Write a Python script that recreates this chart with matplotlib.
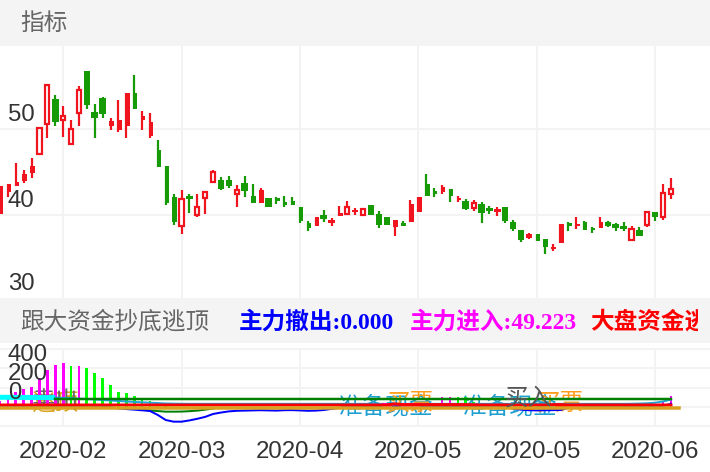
import matplotlib
matplotlib.use('Agg')
import matplotlib.pyplot as plt
import numpy as np
from matplotlib.patches import Rectangle
from matplotlib.transforms import Bbox

# candles
opens = [40.16, 42.68, 43.34, 43.96, 44.89, 47.13, 50.62, 53.53, 51.05, 48.30,
         51.90, 56.71, 52.02, 53.57, 50.31, 49.85, 50.35, 54.23, 51.01, 49.15,
         47.52, 45.74, 42.10, 38.68, 42.17, 40.00, 41.98, 43.84, 44.11, 44.11,
         42.44, 43.68, 42.17, 41.40, 42.02, 41.98, 41.47, 41.59, 40.89, 39.03,
         38.68, 39.96, 39.07, 39.85, 40.12, 40.31, 40.00, 41.20, 40.16, 39.73,
         38.61, 39.07, 39.15, 40.39, 43.57, 42.83, 42.67, 43.06, 41.71, 41.67,
         40.85, 41.24, 40.78, 40.31, 40.89, 39.19, 38.22, 37.29, 37.76, 37.25,
         36.01, 36.71, 39.03, 38.69, 39.15, 38.49, 38.49, 39.15, 38.96, 38.72,
         37.14, 38.22, 38.84, 40.35, 39.77, 42.48]
closes = [43.34, 43.65, 43.84, 44.73, 45.66, 50.12, 55.12, 50.82, 51.51, 50.00,
          54.58, 52.75, 51.24, 51.75, 50.93, 51.05, 54.23, 52.29, 51.48, 50.86,
          45.62, 41.44, 39.15, 41.90, 41.86, 40.97, 42.68, 44.96, 43.06, 43.34,
          42.87, 42.75, 41.40, 42.87, 40.89, 41.63, 41.12, 41.12, 39.26, 38.49,
          39.73, 39.50, 39.42, 40.19, 40.89, 40.54, 40.74, 39.96, 38.84, 38.84,
          39.38, 38.68, 41.24, 42.13, 42.17, 42.40, 43.22, 42.21, 41.98, 40.66,
          41.36, 40.24, 40.43, 40.66, 39.27, 38.34, 37.06, 37.76, 37.02, 36.28,
          36.32, 39.00, 38.69, 38.92, 38.22, 38.22, 39.15, 38.76, 38.49, 38.34,
          38.38, 37.60, 40.31, 39.73, 42.52, 42.99]
highs = [43.34, 43.65, 46.09, 45.20, 46.63, 50.12, 55.12, 53.92, 52.64, 51.01,
         54.96, 56.71, 52.95, 53.68, 51.32, 53.41, 54.23, 56.24, 52.06, 51.90,
         48.76, 45.74, 42.48, 42.95, 42.41, 42.41, 42.68, 45.27, 44.38, 44.50,
         43.45, 44.50, 43.57, 43.10, 42.02, 42.13, 42.25, 42.13, 40.89, 39.26,
         39.73, 40.54, 39.61, 41.01, 41.59, 40.78, 40.74, 41.20, 40.43, 39.73,
         39.38, 39.26, 41.71, 42.13, 44.81, 43.10, 43.45, 43.06, 42.17, 41.82,
         41.71, 41.48, 41.09, 40.97, 40.89, 39.42, 38.22, 37.87, 37.76, 37.25,
         36.67, 39.00, 39.15, 39.73, 39.27, 38.61, 39.77, 39.27, 39.03, 39.15,
         38.69, 38.61, 40.31, 40.35, 43.65, 44.27]
lows = [40.16, 42.10, 43.34, 43.72, 44.34, 47.13, 48.99, 50.39, 49.07, 48.30,
        50.39, 52.37, 48.99, 51.28, 49.93, 49.62, 48.92, 52.29, 49.93, 48.92,
        45.62, 41.13, 38.80, 37.79, 40.24, 39.77, 40.16, 43.72, 42.87, 43.18,
        40.89, 42.05, 41.40, 41.40, 40.89, 41.24, 40.89, 41.12, 39.07, 38.10,
        38.68, 39.19, 38.68, 39.85, 40.12, 39.96, 40.00, 39.96, 38.49, 38.84,
        37.56, 38.68, 39.15, 40.39, 42.17, 42.09, 42.48, 41.47, 41.47, 40.62,
        40.43, 39.03, 40.08, 39.89, 39.03, 38.14, 36.83, 37.17, 37.02, 35.43,
        35.78, 36.71, 38.10, 38.34, 38.22, 37.87, 38.49, 38.57, 38.10, 38.10,
        37.14, 37.60, 38.57, 39.27, 39.38, 41.86]
hollow = [5, 6, 8, 9, 10, 23, 25, 26, 27, 30, 44, 46, 60, 80, 82, 84, 85]
narrow = [0, 1, 2, 3, 4, 14, 15, 16, 17, 18, 19, 20, 21, 22, 32, 33, 35, 36, 37,
          38, 39, 40, 43, 50, 51, 52, 53, 54, 55, 56, 57, 58, 68, 69, 70, 71,
          72, 73, 74, 75, 76]

date_ticks = [8, 23, 38, 53, 68, 83]
date_labels = ['2020-02', '2020-03', '2020-04', '2020-05', '2020-05', '2020-06']
price_ticks = [50, 40, 30]
ind_ticks = [400, 200, 0]

# lower panel
bar_vals = [60, 122, 157, 181, 209, 295, 382, 434, 451, 423,
            423, 399, 347, 295, 226, 157, 140, 112, 87, 60,
            36, 18, 0, 0, 0, 0, 0, 0, 0, 0,
            0, 0, 0, 0, 0, 0, 0, 0, 0, 0,
            0, 0, 0, 0, 0, 0, 0, 0, 0, 0,
            0, 0, 0, 0, 0, 0, 100, 100, 100, 100,
            53, 0, 0, 0, 0, 0, 0, 0, 0, 0,
            0, 0, 0, 0, 0, 0, 0, 0, 0, 28,
            28, 0, 0, 0, 60, 110]
bar_is_green = [9, 11, 12, 13, 14, 15, 16, 17, 18, 19, 20, 21, 58, 59, 60, 79, 80]

stick_idx = [49, 52, 67, 71.3, 73]
stick_top = [34, 34, 30, 30, 30]
stick_bottom = [0, 0, -35, 0, 0]
stick_width = [1.3, 2.5, 1.4, 1.9, 1.5]
stick_color = ['#ff00ff', '#ff00ff', '#ff0000', '#ff0000', '#ff00ff']

cyan_vals = [98, 98, 97, 97, 96, 96, 95, 95]
sky_vals = [95, 92, 88, 84, 80, 76, 70, 65, 60, 55, 50, 46, 42, 38, 34, 32, 31, 30,
            30, 30, 30, 30, 30, 30, 30, 30, 30, 30, 30, 30, 30, 30, 30, 30, 30, 30,
            30, 30, 30, 30, 30, 30, 30, 30, 30, 30, 30, 30, 30, 30, 30, 30, 30, 30,
            30, 30, 30, 30, 30, 30, 30, 30, 30, 30, 30, 30, 30, 30, 30, 30, 30, 30,
            30, 31, 33, 36, 42, 55, 75]
upper_green = [77] * 79
lower_green_vals = [-20, -30, -38, -45, -51, -51, -50, -46, -40, -30, -18]
blue_vals = [10, 10, 10, 10, 10, 10, 10, 10, 10, 10,
             10, 10, 10, 10, -5, -16, -24, -30, -37, -44,
             -86, -138, -155, -155, -142, -125, -105, -75, -60, -48,
             -42, -40, -38, -36, -38, -40, -36, -35, -38, -42,
             -40, -34, -22, -10, 5, 5, 5, 5, 5, 5,
             5, 5, 5, 5, 5, 5, 5, 5, 5, 5,
             5, 5, 5, 5, 5, -20, -30, -36, -38, -36,
             -35, -34, -10, 5, 5, 5, 5, 5, 5, 5,
             5, 5, 5, 5, 10, 30]
red_vals = [18, 18, 18, 18, 18, 18, 18, 18, 18, 18,
            18, 18, 18, 18, 18, 18, 18, 18, 18, 18,
            18, 18, 18, 18, 18, 18, 18, 18, 18, 18,
            18, 18, 18, 18, 18, 18, 18, 18, 18, 18,
            18, 18, 18, 18, 18, 18, 18, 18, 18, 18,
            30, 22, 22, 22, 22, 22, 22, 22, 22, 22,
            20, 18, 18, 18, 18, 18, 18, 18, 18, 18,
            22, 22, 18, 18, 18, 18, 18, 18, 18, 18,
            18, 18, 18, 18, 18, 18]
orange_vals = [-10] * 87

RED = '#f0141e'
GREEN = '#169b06'
GRID = '#f3f3f3'
BAND = '#f4f4f4'
W, H = 710, 472
PX = 7.894  # pixels per candle


def px(n):
    return n * 0.72


def axes_at(top, bottom):
    ax = fig.add_axes([0, 1 - bottom / H, 1, (bottom - top) / H])
    ax.set_xlim(0, W / PX)
    for s in ['top', 'bottom', 'left', 'right']:
        ax.spines[s].set_visible(False)
    ax.tick_params(length=0)
    ax.set_yticks([])
    ax.set_xticks([])
    for t in date_ticks:
        ax.axvline(t, color=GRID, lw=px(2), zorder=0)
    return ax


def y_label(ax, val, offset):
    ax.annotate(str(val), xy=(0, val), xycoords=ax.get_yaxis_transform(),
                xytext=(8, offset), textcoords='offset pixels', va='baseline',
                ha='left', fontsize=17.3, color='#333333', family='Liberation Sans',
                annotation_clip=False, zorder=6)


fig = plt.figure(figsize=(W / 100, H / 100), dpi=100, facecolor='white')

# header bands
fig.add_artist(Rectangle((0, 1 - 45.5 / H), 1, 45.5 / H, transform=fig.transFigure, color=BAND, lw=0))
fig.add_artist(Rectangle((0, 1 - 343 / H), 1, 45 / H, transform=fig.transFigure, color=BAND, lw=0))

# price panel
ax = axes_at(46, 298)
ax.set_ylim(30.35, 59.65)
for v in [50, 40]:
    ax.axhline(v, color=GRID, lw=px(2), zorder=0)

xs = np.arange(len(opens))
for i in xs:
    up = closes[i] >= opens[i]
    c = RED if up else GREEN
    ax.vlines(i, lows[i], highs[i], color=c, lw=px(2.2), zorder=2)
    top = max(opens[i], closes[i])
    bottom = min(opens[i], closes[i])
    if i in hollow:
        ax.bar(i, top - bottom, bottom=bottom, width=4.2 / PX, facecolor='white',
               edgecolor=c, lw=px(2.2), zorder=3)
    elif i in narrow:
        ax.bar(i + 1 / PX, top - bottom, bottom=bottom, width=4.5 / PX, color=c, lw=0, zorder=3)
    else:
        ax.bar(i, top - bottom, bottom=bottom, width=6.5 / PX, color=c, lw=0, zorder=3)

for v, off in zip(price_ticks, [8, 8, 11]):
    y_label(ax, v, off)

# indicator panel
ax2 = axes_at(349, 426)
ax2.set_ylim(-200, 600)
for v in [600, 400, 200, 0, -200]:
    ax2.axhline(v, color=GRID, lw=px(2), zorder=0, clip_on=False)

ax2.set_xticks(date_ticks)
ax2.set_xticklabels(date_labels, fontsize=17.3, color='#333333', family='Liberation Sans')
ax2.tick_params(axis='x', pad=11)


def px_x(p):
    return p / PX


def px_y(p):
    return (406.75 - p) / 0.09625


cjk = ['Noto Sans CJK SC', 'DejaVu Sans']
ax2.text(px_x(55), px_y(404), '逃顶', color='#daa520', fontsize=17, family=cjk, ha='center', va='center', zorder=1)
ax2.text(px_x(55), px_y(402), '卖出', color='#666666', fontsize=17, family=cjk, ha='center', va='center', zorder=1.5)
ax2.text(px_x(386), px_y(407), '准备现金', color='#1e9fd0', fontsize=17, family=cjk, ha='center', va='center', zorder=1)
ax2.text(px_x(410), px_y(403), '买票', color='#ff9c1a', fontsize=17, family=cjk, ha='center', va='center', zorder=1)
ax2.text(px_x(510), px_y(407), '准备现金', color='#1e9fd0', fontsize=17, family=cjk, ha='center', va='center', zorder=1)
ax2.text(px_x(560), px_y(403), '买票', color='#ff9c1a', fontsize=17, family=cjk, ha='center', va='center', zorder=1)
ax2.text(px_x(528), px_y(398), '买入', color='#555555', fontsize=17, family=cjk, ha='center', va='center', zorder=5)

bar_cols = ['#00ff00' if i in bar_is_green else '#ff00ff' for i in range(len(bar_vals))]
ax2.bar(np.arange(len(bar_vals)), bar_vals, width=2.7 / PX, color=bar_cols, lw=0, zorder=2)
ax2.bar(stick_idx, np.array(stick_top) - np.array(stick_bottom), bottom=stick_bottom,
        width=stick_width, color=stick_color, lw=0, zorder=4)

ax2.plot(np.arange(len(cyan_vals)), cyan_vals, color='#00ffff', lw=px(5), zorder=3, solid_capstyle='butt')
ax2.plot(np.arange(7, 7 + len(sky_vals)), sky_vals, color='#1fa3d8', lw=px(2), zorder=3)
ax2.plot(np.arange(7, 7 + len(upper_green)), upper_green, color='#008000', lw=px(2.5), zorder=3.5)
ax2.plot(np.arange(17, 17 + len(lower_green_vals)), lower_green_vals, color='#008000', lw=px(2), zorder=3)
ax2.plot(np.arange(len(blue_vals)), blue_vals, color='#0000ff', lw=px(2), zorder=3)
ax2.plot(np.arange(len(red_vals)), red_vals, color='#ff0000', lw=px(3), zorder=4)
ax2.plot(np.arange(len(orange_vals)), orange_vals, color='#daa01e', lw=px(3.5), zorder=4.5)

for v, off in zip(ind_ticks, [7, 7, 8]):
    y_label(ax2, v, off)

# legend row and title
fig.text(20 / W, 1 - 23 / H, '指标', fontsize=17, color='#666666', family=cjk, va='center')
fig.text(20 / W, 1 - 322 / H, '跟大资金抄底逃顶', fontsize=17, color='#666666', family=cjk, va='center')
bold = ['Liberation Serif', 'Noto Sans CJK SC']
fig.text(239 / W, 1 - 322 / H, '主力撤出:0.000', fontsize=17, color='#0000ff', family=bold, weight='bold', va='center')
fig.text(410 / W, 1 - 322 / H, '主力进入:49.223', fontsize=17, color='#ff00ff', family=bold, weight='bold', va='center')
t = fig.text(590 / W, 1 - 322 / H, '大盘资金逃顶', fontsize=17, color='#ff0000', family=bold, weight='bold', va='center')
t.set_clip_box(Bbox([[0, 0], [698, H]]))
t.set_clip_on(True)

fig.savefig('out.png', dpi=100)
